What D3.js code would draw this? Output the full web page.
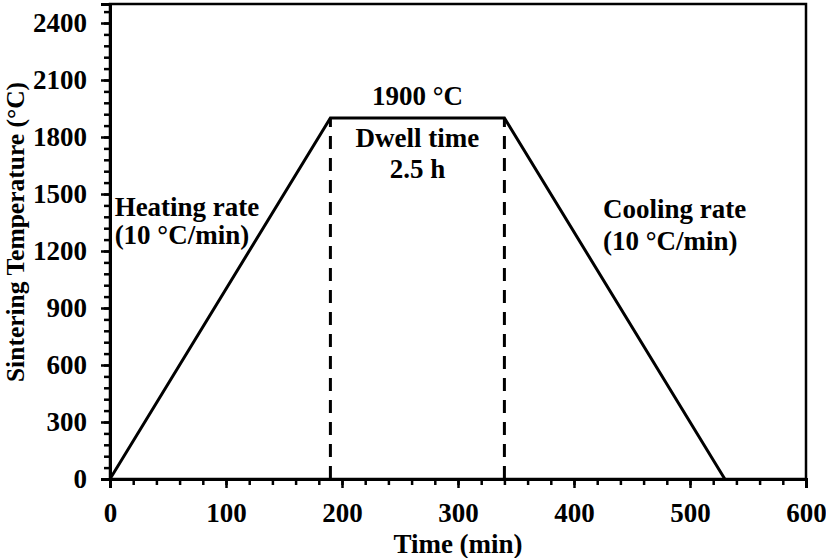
<!DOCTYPE html>
<html>
<head>
<meta charset="utf-8">
<script src="https://cdn.jsdelivr.net/npm/d3@7"></script>
<style>
  body { margin: 0; background: #fff; }
  text { font-family: "Liberation Serif", "Times New Roman", serif; font-weight: bold; fill: #000; }
</style>
</head>
<body>
<script>
// sintering profile (time in min, temperature in °C)
var times = [0, 190, 340, 530];
var temps = [0, 1900, 1900, 0];
var dwellTimes = [190, 340];
var xTicks = [0, 100, 200, 300, 400, 500, 600];
var yTicks = [0, 300, 600, 900, 1200, 1500, 1800, 2100, 2400];
var heatingLabel = ["Heating rate", "(10 °C/min)"];
var coolingLabel = ["Cooling rate", "(10 °C/min)"];
var dwellLabel = ["Dwell time", "2.5 h"];
var peakLabel = "1900 °C";

var width = 826, height = 558;
var margin = {top: 4, right: 20, bottom: 79, left: 110};

var svg = d3.select("body").append("svg")
  .attr("width", width)
  .attr("height", height);

var x = d3.scaleLinear().domain([0, 600]).range([margin.left, width - margin.right]);
var y = d3.scaleLinear().domain([0, 2500]).range([height - margin.bottom, margin.top]);

// frame
svg.append("rect")
  .attr("x", x(0)).attr("y", y(2500))
  .attr("width", x(600) - x(0)).attr("height", y(0) - y(2500))
  .attr("fill", "none").attr("stroke", "#000").attr("stroke-width", 2.5);

// minor ticks
var xMinor = d3.axisBottom(x).tickValues(d3.range(0, 601, 20)).tickSize(6).tickFormat("");
var yMinor = d3.axisLeft(y).tickValues(d3.range(0, 2501, 60)).tickSize(6).tickFormat("");
svg.append("g").attr("transform", "translate(0," + y(0) + ")").call(xMinor);
svg.append("g").attr("transform", "translate(" + x(0) + ",0)").call(yMinor);

var xAxis = d3.axisBottom(x).tickValues(xTicks).tickSize(9).tickPadding(15).tickFormat(d3.format("d"));
var yAxis = d3.axisLeft(y).tickValues(yTicks).tickSize(9).tickPadding(14).tickFormat(d3.format("d"));
svg.append("g").attr("class", "xaxis").attr("transform", "translate(0," + y(0) + ")").call(xAxis);
svg.append("g").attr("class", "yaxis").attr("transform", "translate(" + x(0) + ",0)").call(yAxis);

svg.selectAll(".domain").attr("stroke-width", 3).attr("stroke", "#000");
svg.selectAll(".tick line").attr("stroke-width", 2.5).attr("stroke", "#000");
svg.selectAll(".tick text").attr("font-size", 27).attr("font-family", "Liberation Serif").attr("font-weight", "bold");

// axis titles
svg.append("text")
  .attr("x", (x(0) + x(600)) / 2).attr("y", 553)
  .attr("text-anchor", "middle").attr("font-size", 27)
  .text("Time (min)");
svg.append("text")
  .attr("transform", "translate(24," + 232 + ") rotate(-90)")
  .attr("text-anchor", "middle").attr("font-size", 25.5)
  .text("Sintering Temperature (°C)");

// dwell markers
svg.selectAll(".dwell").data(dwellTimes).enter().append("line")
  .attr("x1", d => x(d)).attr("x2", d => x(d))
  .attr("y1", y(0)).attr("y2", y(1900))
  .attr("stroke", "#000").attr("stroke-width", 3)
  .attr("stroke-dasharray", "13,9");

// profile line
var pts = times.map((t, i) => [t, temps[i]]);
svg.append("path")
  .datum(pts)
  .attr("fill", "none").attr("stroke", "#000").attr("stroke-width", 3)
  .attr("stroke-linejoin", "miter")
  .attr("d", d3.line().x(d => x(d[0])).y(d => y(d[1])));

// annotations
function block(lines, tx, ty, anchor, lh) {
  var t = svg.append("text").attr("font-size", 27).attr("text-anchor", anchor);
  lines.forEach((s, i) => {
    t.append("tspan").attr("x", tx).attr("y", ty + i * lh).text(s);
  });
}
block(heatingLabel, x(4), 216, "start", 28);
block(coolingLabel, x(425), 218, "start", 32);
block(dwellLabel, x(265), 147, "middle", 31);
block([peakLabel], x(265), 105, "middle", 0);
</script>
</body>
</html>
